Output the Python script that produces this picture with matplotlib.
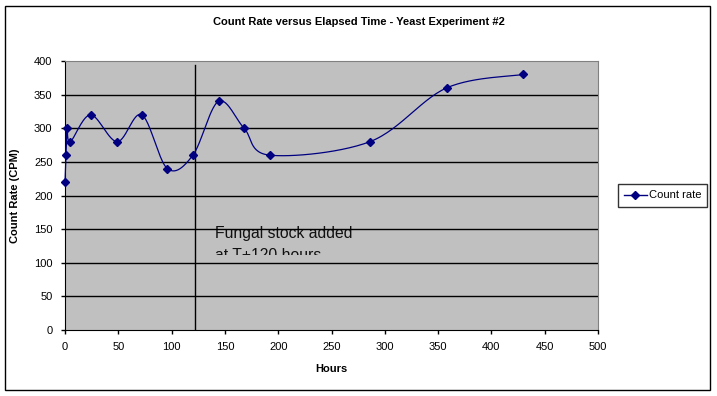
import numpy as np
import matplotlib
matplotlib.use("Agg")
import matplotlib.pyplot as plt
from matplotlib.patches import Rectangle

plt.rcParams['font.family'] = ['Liberation Sans', 'DejaVu Sans']

# data
hours = [0, 1, 2, 5, 24, 49, 72, 96, 120, 144, 168, 192, 286, 358, 430]
count_rate = [220, 260, 300, 280, 320, 280, 320, 240, 260, 340, 300, 260, 280, 360, 380]
fungal_time = 122
x_ticks = list(range(0, 501, 50))
y_ticks = list(range(0, 401, 50))


def smooth(xs, ys, sx, sy, n=30):
    # excel-like smoothed line (catmull-rom) done in screen-ish units
    px = np.array(xs, float) * sx
    py = np.array(ys, float) * sy
    pts = np.column_stack([px, py])
    pts = np.vstack([pts[0], pts, pts[-1]])
    out = []
    for i in range(1, len(pts) - 2):
        p0, p1, p2, p3 = pts[i - 1], pts[i], pts[i + 1], pts[i + 2]
        c1 = p1 + (p2 - p0) / 6
        c2 = p2 - (p3 - p1) / 6
        t = np.linspace(0, 1, n)[:, None]
        seg = (1 - t) ** 3 * p1 + 3 * (1 - t) ** 2 * t * c1 + 3 * (1 - t) * t ** 2 * c2 + t ** 3 * p2
        out.append(seg)
    out = np.vstack(out)
    return out[:, 0] / sx, out[:, 1] / sy


fig = plt.figure(figsize=(7.17, 3.96), dpi=100)
fig.patches.append(Rectangle((5 / 717, 6 / 396), 705 / 717, 384 / 396, transform=fig.transFigure,
                             fill=False, edgecolor='black', linewidth=1))
ax = fig.add_axes([65 / 717, 66 / 396, 533 / 717, 269 / 396])
ax.set_facecolor('#C0C0C0')

for yv in y_ticks[1:-1]:
    ax.axhline(yv, color='black', linewidth=1, zorder=1)
ax.axvline(fungal_time, color='black', linewidth=1, ymax=0.985, zorder=1)

ax.plot(*smooth(hours, count_rate, 533 / 500, 269 / 400), color='#000080', linewidth=0.9,
        zorder=3, clip_on=False)
ax.plot(hours, count_rate, linestyle='none', marker='D', markersize=4.5, color='#000080',
        zorder=4, clip_on=False)
ax.plot([], [], color='#000080', marker='D', markersize=4.5, linewidth=1, label='Count rate')

txt = ax.text(141, 154, 'Fungal stock added\nat T+120 hours', fontsize=11.3, va='top', ha='left',
              color='#111111', linespacing=1.55, zorder=0.5)
clip = Rectangle((138, 111.5), 200, 60, transform=ax.transData)
txt.set_clip_on(True)
txt.set_clip_path(clip)

ax.set_xlim(0, 500)
ax.set_ylim(0, 400)
ax.set_xticks(x_ticks)
ax.set_yticks(y_ticks)
ax.tick_params(labelsize=8, length=3, direction='out', width=1, pad=6)
for s in ['top', 'right']:
    ax.spines[s].set_color('#808080')
for s in ['left', 'bottom']:
    ax.spines[s].set_color('black')

ax.set_xlabel('Hours', fontsize=8, fontweight='bold', labelpad=8)
ax.set_ylabel('Count Rate (CPM)', fontsize=8, fontweight='bold', labelpad=10)
fig.text(359 / 717, 1 - 22 / 396, 'Count Rate versus Elapsed Time - Yeast Experiment #2',
         fontsize=8, fontweight='bold', ha='center', va='center')

leg = ax.legend(loc='center left', bbox_to_anchor=(1.037, 0.5), fontsize=8, frameon=True,
                fancybox=False, edgecolor='black', borderpad=0.55, handlelength=2.1,
                handletextpad=0.15, borderaxespad=0)
leg.get_frame().set_linewidth(1)

fig.savefig('out.png', dpi=100)
